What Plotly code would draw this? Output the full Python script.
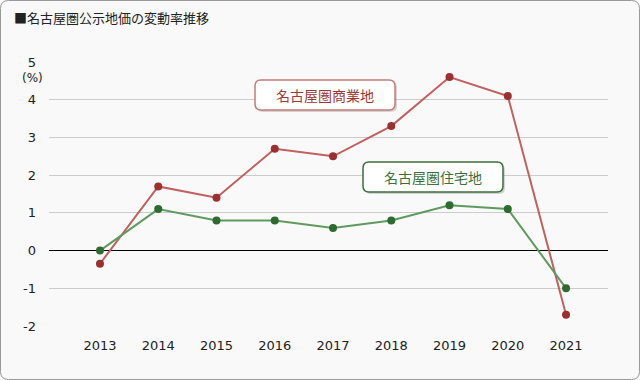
import plotly.graph_objects as go

years = [2013, 2014, 2015, 2016, 2017, 2018, 2019, 2020, 2021]
commercial = [-0.35, 1.7, 1.4, 2.7, 2.5, 3.3, 4.6, 4.1, -1.7]
residential = [0.0, 1.1, 0.8, 0.8, 0.6, 0.8, 1.2, 1.1, -1.0]
y_ticks = [-2, -1, 0, 1, 2, 3, 4, 5]
y_tick_labels = ["-2", "-1", "0", "1", "2", "3", "4", "5"]
title_text = "■名古屋圏公示地価の変動率推移"
label_commercial = "名古屋圏商業地"
label_residential = "名古屋圏住宅地"

W, H = 640, 380
L, R, T, B = 49, 32, 62, 54
pw, ph = W - L - R, H - T - B

def px2x(px):
    return (px - L) / pw

def px2y(py):
    return (H - B - py) / ph

def rrect(x0, y0, x1, y1, r):
    def P(x, y):
        return f"{px2x(x):.5f},{px2y(y):.5f}"
    return (f"M {P(x0+r, y0)} L {P(x1-r, y0)} Q {P(x1, y0)} {P(x1, y0+r)} "
            f"L {P(x1, y1-r)} Q {P(x1, y1)} {P(x1-r, y1)} L {P(x0+r, y1)} "
            f"Q {P(x0, y1)} {P(x0, y1-r)} L {P(x0, y0+r)} Q {P(x0, y0)} {P(x0+r, y0)} Z")

FONT = "Noto Sans CJK JP, Noto Sans, sans-serif"
NUMFONT = "DejaVu Sans, sans-serif"

fig = go.Figure()
fig.add_trace(go.Scatter(x=years, y=commercial, mode="lines+markers",
                         line=dict(color="#c0605f", width=2),
                         marker=dict(color="#9c2f30", size=8),
                         showlegend=False, cliponaxis=False))
fig.add_trace(go.Scatter(x=years, y=residential, mode="lines+markers",
                         line=dict(color="#5f9a5f", width=2),
                         marker=dict(color="#2f6b30", size=8),
                         showlegend=False, cliponaxis=False))

shapes = [
    dict(type="path", xref="paper", yref="paper", path=rrect(0.5, 0.5, 639.5, 379.5, 8),
         line=dict(color="#999999", width=1), fillcolor="rgba(0,0,0,0)", layer="below"),
    dict(type="path", xref="paper", yref="paper", path=rrect(257, 82, 397, 112, 6),
         line=dict(width=0), fillcolor="rgba(0,0,0,0.15)"),
    dict(type="path", xref="paper", yref="paper", path=rrect(255, 80, 395, 110, 6),
         line=dict(color="#c47a7a", width=1.5), fillcolor="#ffffff"),
    dict(type="path", xref="paper", yref="paper", path=rrect(365, 164, 505, 194, 6),
         line=dict(width=0), fillcolor="rgba(0,0,0,0.15)"),
    dict(type="path", xref="paper", yref="paper", path=rrect(363, 162, 503, 192, 6),
         line=dict(color="#3d6e3d", width=1.5), fillcolor="#ffffff"),
]

annotations = [
    dict(text=title_text, xref="paper", yref="paper", x=px2x(12), y=px2y(17),
         xanchor="left", yanchor="middle", showarrow=False,
         font=dict(size=13, color="#222222", family=FONT)),
    dict(text="(%)", xref="paper", yref="paper", x=px2x(32), y=px2y(78),
         xanchor="center", yanchor="middle", showarrow=False,
         font=dict(size=12, color="#222222", family=NUMFONT)),
    dict(text=label_commercial, xref="paper", yref="paper", x=px2x(325), y=px2y(95),
         xanchor="center", yanchor="middle", showarrow=False,
         font=dict(size=14, color="#9c3a3a", family=FONT)),
    dict(text=label_residential, xref="paper", yref="paper", x=px2x(433), y=px2y(177),
         xanchor="center", yanchor="middle", showarrow=False,
         font=dict(size=14, color="#3d6e3d", family=FONT)),
]

fig.update_layout(
    width=W, height=H,
    margin=dict(l=L, r=R, t=T, b=B, pad=0),
    paper_bgcolor="#f9f9f9", plot_bgcolor="#f9f9f9",
    shapes=shapes, annotations=annotations,
    font=dict(family=FONT, size=13, color="#222222"),
    xaxis=dict(range=[2013 - 0.875, 2021 + 0.72], tickvals=years,
               ticktext=[str(y) for y in years], showgrid=False, zeroline=False,
               showline=False, ticks="", ticklabelstandoff=10, fixedrange=True,
               tickfont=dict(family=NUMFONT, size=13, color="#222222")),
    yaxis=dict(range=[-2, 5], tickvals=y_ticks, ticktext=y_tick_labels,
               showgrid=True, gridcolor="#cccccc",
               gridwidth=1, zeroline=True, zerolinecolor="#000000", zerolinewidth=1,
               showline=False, ticks="", ticklabelstandoff=12, fixedrange=True,
               tickfont=dict(family=NUMFONT, size=13, color="#222222")),
)

fig.write_html("out.html", config={"displayModeBar": False},
               post_script="document.body.style.margin='0';document.body.style.padding='0';")
